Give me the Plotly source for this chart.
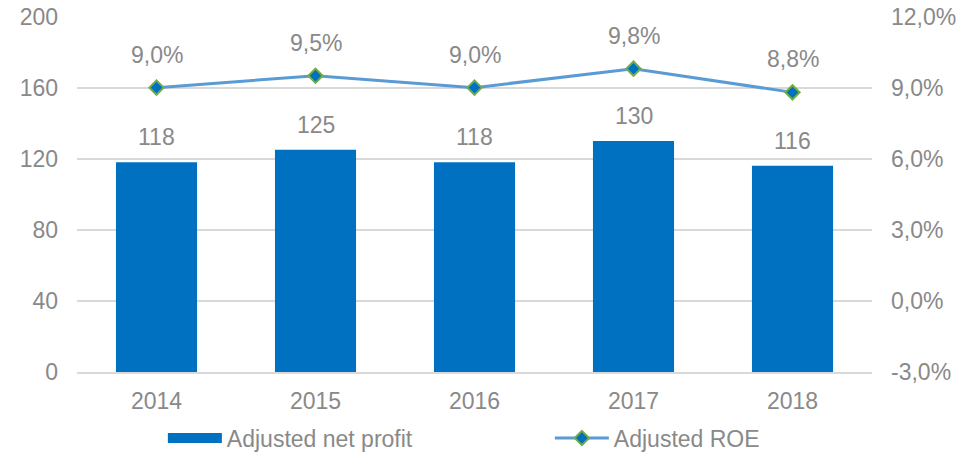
import plotly.graph_objects as go

years = ["2014", "2015", "2016", "2017", "2018"]
net_profit = [118, 125, 118, 130, 116]
roe = [9.0, 9.5, 9.0, 9.8, 8.8]
left_ticks = [0, 40, 80, 120, 160, 200]
right_ticks = [-3, 0, 3, 6, 9, 12]

GREY = "#898989"
FONT = "Liberation Sans, Arial, sans-serif"
FS = 23

fig = go.Figure()
fig.add_trace(go.Bar(
    x=years, y=net_profit, name="Adjusted net profit",
    marker=dict(color="#0070C0", line=dict(width=0)),
    yaxis="y", showlegend=False,
))
# legend entry for the bars drawn as a wide rectangle (no data)
fig.add_trace(go.Scatter(
    x=[None], y=[None], name="Adjusted net profit", mode="lines",
    line=dict(color="#0070C0", width=15), yaxis="y",
))
fig.add_trace(go.Scatter(
    x=years, y=roe, name="Adjusted ROE", mode="lines+markers",
    line=dict(color="#5B9BD5", width=3),
    marker=dict(symbol="diamond", size=11, color="#0070C0",
                line=dict(color="#70AD47", width=2)),
    yaxis="y2",
))

annotations = []
for i, v in enumerate(net_profit):
    annotations.append(dict(x=i, y=v, xref="x", yref="y", text=str(v),
                            showarrow=False, yanchor="bottom", yshift=10,
                            font=dict(size=FS, color=GREY, family=FONT)))
for i, v in enumerate(roe):
    annotations.append(dict(x=i, y=v, xref="x", yref="y2",
                            text=f"{v:.1f}%".replace(".", ","),
                            showarrow=False, yanchor="bottom", yshift=18,
                            font=dict(size=FS, color=GREY, family=FONT)))

fig.update_layout(
    width=977, height=454,
    margin=dict(l=77, r=105, t=16, b=82, autoexpand=False),
    plot_bgcolor="white", paper_bgcolor="white",
    font=dict(family=FONT, size=FS, color=GREY),
    bargap=0.49,
    showlegend=True,
    legend=dict(orientation="h", x=0.108, xanchor="left", y=-0.125, yanchor="top",
                font=dict(size=FS, color=GREY), itemwidth=54,
                entrywidth=318, tracegroupgap=0),
    xaxis=dict(type="category", range=[-0.5, 4.5], showgrid=False, showline=True,
               linecolor="#D9D9D9", linewidth=1.5, ticks="", ticklabelstandoff=8,
               tickfont=dict(size=FS, color=GREY)),
    yaxis=dict(range=[0, 200.3], tickvals=left_ticks, showgrid=True,
               gridcolor="#D9D9D9", gridwidth=1.5, zeroline=False,
               ticks="", ticklabelstandoff=18, ticklabeloverflow="allow",
               tickfont=dict(size=FS, color=GREY)),
    yaxis2=dict(range=[-3, 12.0225], tickvals=right_ticks, overlaying="y", side="right",
                showgrid=False, zeroline=False, ticks="",
                ticktext=[f"{t:.1f}%".replace(".", ",") for t in right_ticks],
                tickmode="array", ticklabelstandoff=18, ticklabeloverflow="allow",
                tickfont=dict(size=FS, color=GREY)),
    annotations=annotations,
)

fig.write_html("out.html", config={"displayModeBar": False},
               post_script="document.body.style.margin='0';")
